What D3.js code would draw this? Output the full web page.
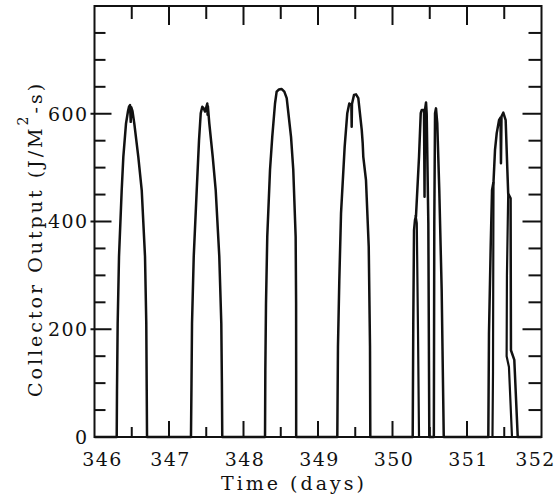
<!DOCTYPE html>
<html>
<head>
<meta charset="utf-8">
<script src="https://cdn.jsdelivr.net/npm/d3@7"></script>
<style>
  html, body { margin: 0; padding: 0; background: #fff; }
  svg { display: block; }
  text { font-family: "DejaVu Serif", "Liberation Serif", serif; fill: #111; }
</style>
</head>
<body>
<div id="chart"></div>
<script>
// tick labels
const dayTicks = [346, 347, 348, 349, 350, 351, 352];
const outputTicks = [0, 200, 400, 600];

// collector output, [day, J/M^2-s]
const pulse346 = [[346.298, 0], [346.302, 87], [346.311, 211], [346.329, 335], [346.365, 458], [346.387, 520],
  [346.423, 582], [346.45, 605], [346.463, 613], [346.477, 616], [346.486, 585], [346.494, 612], [346.51, 605],
  [346.534, 582], [346.588, 520], [346.634, 458], [346.678, 335], [346.695, 211], [346.701, 87], [346.705, 0]];
const pulse347 = [[347.295, 0], [347.302, 100], [347.309, 211], [347.332, 335], [347.372, 458], [347.403, 551],
  [347.426, 601], [347.447, 613], [347.465, 610], [347.483, 604], [347.5, 612], [347.514, 619], [347.518, 598],
  [347.522, 614], [347.541, 582], [347.587, 520], [347.627, 458], [347.675, 335], [347.702, 211], [347.71, 100],
  [347.715, 0]];
const pulse348 = [[348.289, 0], [348.293, 124], [348.302, 248], [348.319, 372], [348.356, 496], [348.386, 557],
  [348.423, 619], [348.445, 641], [348.476, 645], [348.51, 646], [348.548, 641], [348.58, 629], [348.638, 557],
  [348.668, 496], [348.7, 372], [348.706, 248], [348.707, 124], [348.707, 0]];
const pulse349 = [[349.259, 0], [349.268, 168], [349.286, 291], [349.309, 415], [349.358, 539], [349.393, 601],
  [349.42, 619], [349.448, 616], [349.452, 576], [349.456, 618], [349.483, 635], [349.51, 636], [349.541, 629],
  [349.587, 570], [349.6, 545], [349.608, 520], [349.644, 477], [349.681, 353], [349.698, 168], [349.702, 0]];
const pulse350 = [[350.271, 0], [350.279, 211], [350.289, 384], [350.302, 403], [350.315, 409], [350.356, 520],
  [350.379, 601], [350.393, 607], [350.423, 607], [350.43, 446], [350.436, 607], [350.45, 621], [350.459, 600],
  [350.481, 397], [350.494, 0], [350.555, 0], [350.561, 397], [350.571, 601], [350.584, 610], [350.601, 582],
  [350.628, 458], [350.66, 273], [350.688, 0]];
const pulse351 = [[351.286, 0], [351.295, 192], [351.319, 360], [351.336, 458], [351.356, 474], [351.376, 533],
  [351.399, 564], [351.43, 588], [351.45, 593], [351.456, 508], [351.463, 595], [351.487, 602], [351.519, 588],
  [351.54, 502], [351.553, 452], [351.585, 443], [351.59, 161], [351.635, 143], [351.681, 0]];

// second pen where it leaves the main trace (cloudy days)
const secondPen350 = [[350.356, 0], [350.342, 200], [350.326, 397], [350.309, 412]];
const secondPen351a = [[351.342, 0], [351.349, 121], [351.353, 347], [351.356, 474]];
const secondPen351b = [[351.553, 452], [351.536, 300], [351.532, 150], [351.563, 130], [351.604, 0]];

const width = 555, height = 499;
const frame = { left: 94.5, right: 541.5, top: 6, bottom: 437 };

const svg = d3.select("#chart").append("svg")
  .attr("width", width)
  .attr("height", height);

const x = d3.scaleLinear().domain([346, 352]).range([frame.left, frame.right]);
const y = d3.scaleLinear().domain([0, 800]).range([frame.bottom, frame.top]);

const halfDays = d3.range(346.5, 352, 0.5);
const outputSteps = d3.range(50, 800, 50);
const isMajor = v => outputTicks.includes(v);

const ticks = svg.append("g")
  .attr("stroke", "#111")
  .attr("stroke-width", 2);

// all ticks point inward
ticks.selectAll(".tick-bottom")
  .data(halfDays)
  .enter()
  .append("line")
  .attr("x1", d => x(d)).attr("x2", d => x(d))
  .attr("y1", frame.bottom)
  .attr("y2", d => frame.bottom - (Number.isInteger(d) ? 16 : 10));

ticks.selectAll(".tick-top")
  .data(halfDays)
  .enter()
  .append("line")
  .attr("x1", d => x(d)).attr("x2", d => x(d))
  .attr("y1", frame.top)
  .attr("y2", d => frame.top + (Number.isInteger(d) ? 19 : 13));

ticks.selectAll(".tick-left")
  .data(outputSteps)
  .enter()
  .append("line")
  .attr("y1", d => y(d)).attr("y2", d => y(d))
  .attr("x1", d => isMajor(d) ? frame.left - 4 : frame.left)
  .attr("x2", d => frame.left + (isMajor(d) ? 17 : 11));

ticks.selectAll(".tick-right")
  .data(outputSteps)
  .enter()
  .append("line")
  .attr("y1", d => y(d)).attr("y2", d => y(d))
  .attr("x1", d => frame.right - (isMajor(d) ? 19 : 13))
  .attr("x2", frame.right);

// frame
svg.append("rect")
  .attr("x", frame.left)
  .attr("y", frame.top)
  .attr("width", frame.right - frame.left)
  .attr("height", frame.bottom - frame.top)
  .attr("fill", "none")
  .attr("stroke", "#111")
  .attr("stroke-width", 2);

// traces
const line = d3.line()
  .x(d => x(d[0]))
  .y(d => y(d[1]));

const mainTrace = [[346, 0]].concat(pulse346, pulse347, pulse348, pulse349, pulse350, pulse351, [[352, 0]]);

svg.append("path")
  .datum(mainTrace)
  .attr("fill", "none")
  .attr("stroke", "#111")
  .attr("stroke-width", 2.5)
  .attr("stroke-linejoin", "round")
  .attr("d", line);

svg.selectAll(".second-pen")
  .data([secondPen350, secondPen351a, secondPen351b])
  .enter()
  .append("path")
  .attr("class", "second-pen")
  .attr("fill", "none")
  .attr("stroke", "#111")
  .attr("stroke-width", 2.2)
  .attr("stroke-linejoin", "round")
  .attr("d", line);

// labels
const labels = svg.append("g")
  .style("font-size", "19px");

labels.selectAll(".y-label")
  .data(outputTicks)
  .enter()
  .append("text")
  .attr("x", frame.left - 6)
  .attr("y", d => y(d))
  .attr("dy", "0.36em")
  .attr("text-anchor", "end")
  .style("letter-spacing", "1.4px")
  .text(d => d);

labels.selectAll(".x-label")
  .data(dayTicks)
  .enter()
  .append("text")
  .attr("x", d => x(d) + (d === 346 ? 8 : d === 352 ? -6 : 1.5))
  .attr("y", 466)
  .attr("text-anchor", "middle")
  .style("letter-spacing", "1.4px")
  .text(d => d);

labels.append("text")
  .attr("x", 294)
  .attr("y", 490)
  .attr("text-anchor", "middle")
  .style("letter-spacing", "3px")
  .text("Time (days)");

const yTitle = labels.append("text")
  .attr("transform", "translate(42,239) rotate(-90)")
  .attr("text-anchor", "middle")
  .style("letter-spacing", "3px");
yTitle.append("tspan").text("Collector Output (J/M");
yTitle.append("tspan").attr("dy", -14).style("font-size", "14px").text("2");
yTitle.append("tspan").attr("dy", 14).text("-s)");
</script>
</body>
</html>
